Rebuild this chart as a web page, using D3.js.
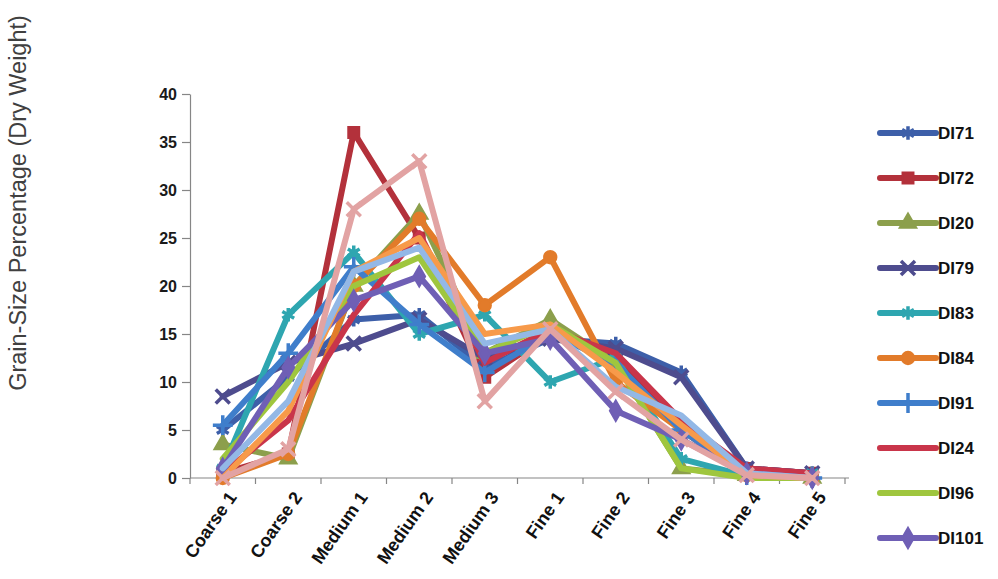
<!DOCTYPE html>
<html>
<head>
<meta charset="utf-8">
<script src="https://cdn.jsdelivr.net/npm/d3@7/dist/d3.min.js"></script>
<style>
  html, body { margin: 0; padding: 0; background: #fff; }
  svg { display: block; }
</style>
</head>
<body>
<svg id="chart" width="998" height="579"></svg>
<script>
// Grain-size fractions, coarse to fine
const categories = ["Coarse 1", "Coarse 2", "Medium 1", "Medium 2", "Medium 3",
                    "Fine 1", "Fine 2", "Fine 3", "Fine 4", "Fine 5"];

// Percentage (dry weight) per sample
const DI71  = [5, 10.5, 16.5, 17, 11.5, 14.5, 14, 11, 1, 0.5];
const DI72  = [0.5, 2.5, 36, 25, 10.5, 15, 12.5, 5, 1, 0.5];
const DI20  = [3.5, 2, 20, 27.5, 13, 16.5, 12, 1, 0.3, 0];
const DI79  = [8.5, 12, 14, 16.5, 12.5, 14.5, 13.5, 10.5, 1, 0.5];
const DI83  = [1, 17, 23.5, 15, 17, 10, 12.5, 2, 0.2, 0.5];
const DI84  = [0, 2.5, 20, 27, 18, 23, 10, 5, 0.3, 0];
const DI91  = [5.5, 13, 22, 16, 11, 15, 12, 5, 0.3, 0];
const DI24  = [0.5, 6, 17, 25.5, 12, 15.5, 13, 6, 1, 0.5];
const DI96  = [2, 10, 20, 23, 13, 16, 12, 1, 0, 0];
const DI101 = [1, 11.5, 18.5, 21, 13, 14.5, 7, 4, 0.5, 0];
// further samples plotted without a legend entry
const extraA = [0, 7, 21.5, 25, 15, 16, 11, 5.5, 0.3, 0];
const extraB = [1, 8, 21.5, 24, 14, 15.5, 9.5, 6.5, 0.5, 0];
const extraC = [0, 3, 28, 33, 8, 15.5, 9, 4, 0.3, 0];

const yTicks = [0, 5, 10, 15, 20, 25, 30, 35, 40];

const series = [
  { name: "DI71",  values: DI71,  color: "#3d5fa9", marker: "asterisk", legend: true },
  { name: "DI72",  values: DI72,  color: "#b3313b", marker: "square",   legend: true },
  { name: "DI20",  values: DI20,  color: "#8c9f4c", marker: "triangle", legend: true },
  { name: "DI79",  values: DI79,  color: "#4e4c8e", marker: "times",    legend: true },
  { name: "DI83",  values: DI83,  color: "#2ea6b0", marker: "asterisk", legend: true },
  { name: "DI84",  values: DI84,  color: "#e27b2a", marker: "circle",   legend: true },
  { name: "DI91",  values: DI91,  color: "#3f7ecb", marker: "plus",     legend: true },
  { name: "DI24",  values: DI24,  color: "#c9354a", marker: "none",     legend: true },
  { name: "DI96",  values: DI96,  color: "#9fc63e", marker: "none",     legend: true },
  { name: "DI101", values: DI101, color: "#6f5fb5", marker: "diamond",  legend: true },
  { name: "A",     values: extraA, color: "#f79a4a", marker: "none",    legend: false },
  { name: "B",     values: extraB, color: "#93b8e6", marker: "none",    legend: false },
  { name: "C",     values: extraC, color: "#e2a3a3", marker: "times",   legend: false }
];

const svg = d3.select("#chart");
const plot = { left: 190, right: 845, top: 94, bottom: 478 };

const x = d3.scaleBand().domain(categories).range([plot.left, plot.right]);
const y = d3.scaleLinear().domain([0, 40]).range([plot.bottom, plot.top]);
const cx = c => x(c) + x.bandwidth() / 2;

// y axis
const yAxis = svg.append("g")
  .attr("transform", `translate(${plot.left},0)`)
  .call(d3.axisLeft(y).tickValues(yTicks).tickSize(8).tickPadding(5).tickSizeOuter(0));
yAxis.select(".domain").attr("stroke", "#868686").attr("stroke-width", 1.2);
yAxis.selectAll(".tick line").attr("stroke", "#868686").attr("stroke-width", 1.2);
yAxis.selectAll(".tick text")
  .attr("fill", "#1a1a1a")
  .style("font-family", "'Liberation Sans', Arial, sans-serif")
  .style("font-size", "16px").style("font-weight", "bold");

// x axis: labels at category centres, ticks at category boundaries
const xAxis = svg.append("g")
  .attr("transform", `translate(0,${plot.bottom})`)
  .call(d3.axisBottom(x).tickSize(0).tickSizeOuter(0));
xAxis.select(".domain").attr("stroke", "#868686").attr("stroke-width", 1.2)
  .attr("d", `M${plot.left},0H${plot.right + 4}`);
xAxis.selectAll(".tick text")
  .attr("fill", "#111")
  .attr("text-anchor", "end")
  .attr("dy", "0.35em")
  .attr("transform", "translate(7,14) rotate(-55)")
  .style("font-family", "'Liberation Sans', Arial, sans-serif")
  .style("font-size", "18px").style("font-weight", "bold");
const boundaries = categories.map(c => x(c)).concat([x(categories[categories.length - 1]) + x.step()]);
xAxis.selectAll("line.bound").data(boundaries).enter().append("line")
  .attr("class", "bound")
  .attr("x1", d => d).attr("x2", d => d)
  .attr("y1", 0).attr("y2", 6)
  .attr("stroke", "#868686").attr("stroke-width", 1.2);

// y title
svg.append("text")
  .attr("transform", "translate(26,203) rotate(-90)")
  .attr("text-anchor", "middle")
  .attr("fill", "#404040")
  .style("font-family", "'Liberation Sans', Arial, sans-serif")
  .style("font-size", "23.5px")
  .text("Grain-Size Percentage (Dry Weight)");

const symbolTypes = {
  asterisk: d3.symbolAsterisk, square: d3.symbolSquare, triangle: d3.symbolTriangle,
  times: d3.symbolTimes, circle: d3.symbolCircle, plus: d3.symbolPlus,
  diamond: d3.symbolDiamond
};
const strokeMarkers = new Set(["asterisk", "times", "plus"]);

function drawMarker(g, s, px, py) {
  if (s.marker === "none") return;
  const size = strokeMarkers.has(s.marker) ? 130 : 120;
  const path = g.append("path")
    .attr("d", d3.symbol().type(symbolTypes[s.marker]).size(size)())
    .attr("transform", `translate(${px},${py})`);
  if (strokeMarkers.has(s.marker)) {
    path.attr("fill", "none").attr("stroke", s.color).attr("stroke-width", 3.5);
  } else {
    path.attr("fill", s.color).attr("stroke", s.color).attr("stroke-width", 2);
  }
}

const line = d3.line().x((d, i) => cx(categories[i])).y(d => y(d));

const lines = svg.append("g");
series.forEach(s => {
  const g = lines.append("g");
  g.append("path")
    .attr("d", line(s.values))
    .attr("fill", "none")
    .attr("stroke", s.color)
    .attr("stroke-width", 6)
    .attr("stroke-linejoin", "round")
    .attr("stroke-linecap", "round");
  s.values.forEach((v, i) => drawMarker(g, s, cx(categories[i]), y(v)));
});

// legend
const legend = svg.append("g");
series.filter(s => s.legend).forEach((s, i) => {
  const ly = 133 + i * 45;
  const g = legend.append("g");
  g.append("line")
    .attr("x1", 880).attr("x2", 936).attr("y1", ly).attr("y2", ly)
    .attr("stroke", s.color).attr("stroke-width", 6).attr("stroke-linecap", "round");
  drawMarker(g, s, 908, ly);
  g.append("text")
    .attr("x", 938).attr("y", ly).attr("dy", "0.36em")
    .attr("fill", "#111")
    .style("font-family", "'Liberation Sans', Arial, sans-serif")
    .style("font-size", "17px").style("font-weight", "bold")
    .text(s.name);
});
</script>
</body>
</html>
